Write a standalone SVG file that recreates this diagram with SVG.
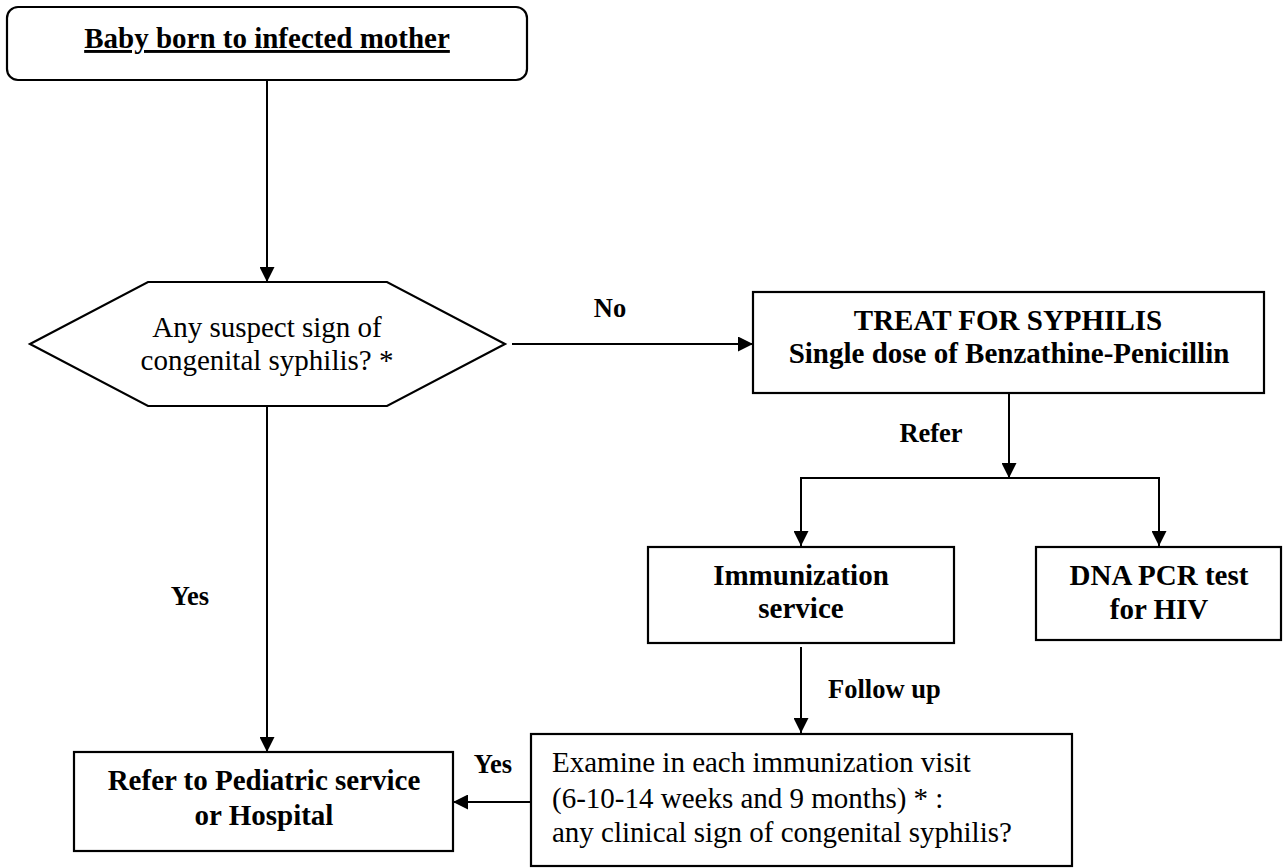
<svg xmlns="http://www.w3.org/2000/svg" width="1283" height="868" viewBox="0 0 1283 868">
<style>
  .box { fill: #ffffff; stroke: #000000; stroke-width: 2.2; }
  .conn { fill: none; stroke: #000000; stroke-width: 2; }
  .t { font-family: "Liberation Serif", "Times New Roman", serif; fill: #000000; }
  .b { font-weight: bold; font-size: 29px; }
  .r { font-size: 29px; }
  .lbl { font-family: "Liberation Serif", "Times New Roman", serif; font-weight: bold; font-size: 26.5px; fill: #000000; }
</style>
<defs>
  <marker id="arrow" markerUnits="userSpaceOnUse" markerWidth="15" markerHeight="15" refX="15" refY="7.5" orient="auto">
    <path d="M0,0 L15,7.5 L0,15 Z" fill="#000000"/>
  </marker>
</defs>
<rect width="1283" height="868" fill="#ffffff"/>

<g id="connectors">
  <line class="conn" x1="267" y1="80" x2="267" y2="282" marker-end="url(#arrow)"/>
  <line class="conn" x1="512" y1="344" x2="753" y2="344" marker-end="url(#arrow)"/>
  <line class="conn" x1="267" y1="406" x2="267" y2="752" marker-end="url(#arrow)"/>
  <line class="conn" x1="1009" y1="393" x2="1009" y2="478" marker-end="url(#arrow)"/>
  <path class="conn" d="M1009,478 H801 V546" marker-end="url(#arrow)"/>
  <path class="conn" d="M1009,478 H1159 V546" marker-end="url(#arrow)"/>
  <line class="conn" x1="801" y1="647" x2="801" y2="733" marker-end="url(#arrow)"/>
  <line class="conn" x1="531" y1="802" x2="453" y2="802" marker-end="url(#arrow)"/>
  <text class="lbl" x="610" y="317" text-anchor="middle">No</text>
  <text class="lbl" x="931" y="442" text-anchor="middle">Refer</text>
  <text class="lbl" x="190" y="605" text-anchor="middle">Yes</text>
  <text class="lbl" x="493" y="773" text-anchor="middle">Yes</text>
  <text class="lbl" x="828" y="698">Follow up</text>
</g>

<g id="start">
  <rect class="box" x="7" y="7" width="520" height="73" rx="11" ry="11"/>
  <text class="t b" x="267" y="48" text-anchor="middle" text-decoration="underline">Baby born to infected mother</text>
</g>

<g id="decision">
  <polygon class="box" points="30,344 148,282 387,282 505,344 387,406 148,406"/>
  <text class="t r" x="267" y="337" text-anchor="middle">Any suspect sign of</text>
  <text class="t r" x="267" y="370" text-anchor="middle">congenital syphilis? *</text>
</g>

<g id="treat">
  <rect class="box" x="753" y="292" width="511" height="101"/>
  <text class="t b" x="1008" y="330" text-anchor="middle">TREAT FOR SYPHILIS</text>
  <text class="t b" x="1009" y="363" text-anchor="middle">Single dose of Benzathine-Penicillin</text>
</g>

<g id="immunization">
  <rect class="box" x="648" y="547" width="306" height="96"/>
  <text class="t b" x="801" y="585" text-anchor="middle">Immunization</text>
  <text class="t b" x="801" y="618" text-anchor="middle">service</text>
</g>

<g id="dnapcr">
  <rect class="box" x="1036" y="547" width="245" height="93"/>
  <text class="t b" x="1159" y="585" text-anchor="middle">DNA PCR test</text>
  <text class="t b" x="1159" y="619" text-anchor="middle">for HIV</text>
</g>

<g id="examine">
  <rect class="box" x="531" y="734" width="541" height="132"/>
  <text class="t r" x="552" y="772">Examine in each immunization visit</text>
  <text class="t r" x="552" y="808">(6-10-14 weeks and 9 months) * :</text>
  <text class="t r" x="552" y="842">any clinical sign of congenital syphilis?</text>
</g>

<g id="refer">
  <rect class="box" x="74" y="752" width="379" height="99"/>
  <text class="t b" x="264" y="790" text-anchor="middle">Refer to Pediatric service</text>
  <text class="t b" x="264" y="825" text-anchor="middle">or Hospital</text>
</g>
</svg>
